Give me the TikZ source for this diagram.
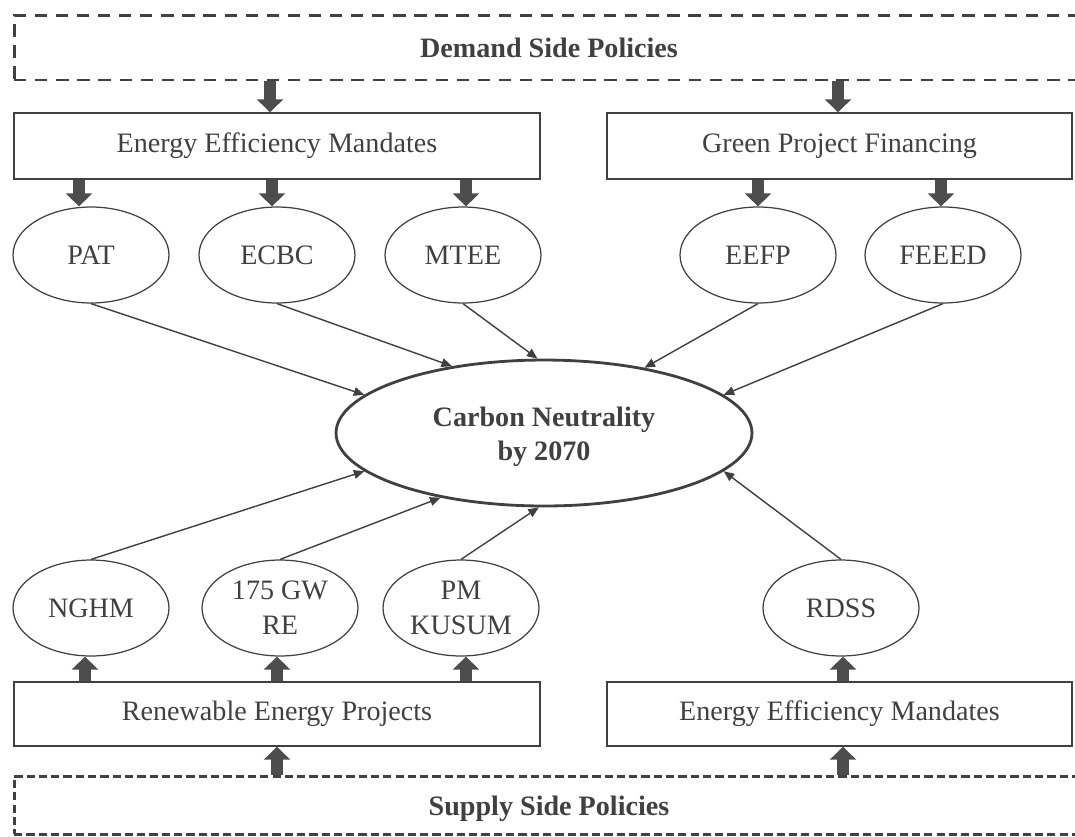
\documentclass[tikz,border=0pt]{standalone}
\usepackage{fontspec}
\setmainfont{Liberation Serif}
\usetikzlibrary{shapes.geometric,arrows.meta}
\definecolor{ink}{HTML}{404040}
\definecolor{blkc}{HTML}{4D4D4D}
\begin{document}
\begin{tikzpicture}[x=0.02cm,y=-0.02cm,
  every node/.style={text=ink,font=\fontsize{16}{20}\selectfont},
  boxnode/.style={draw=ink,line width=0.8pt,rectangle,inner sep=0pt,minimum height=1.32cm},
  ovalnode/.style={draw=ink,line width=0.7pt,ellipse,inner sep=0pt,minimum width=3.12cm,minimum height=1.92cm,align=center},
  zonebox/.style={draw=ink,line width=1.7pt,rectangle,inner sep=0pt},
  boldtext/.style={font=\fontsize{16}{19.5}\selectfont\bfseries,align=center},
  blk/.style={draw=blkc,line width=7.1pt,-{Triangle[width=14.7pt,length=7.4pt]}},
  linkarrow/.style={draw=ink,line width=0.8pt,-{Triangle[width=5pt,length=6pt]}}
]
\useasboundingbox (0,0) rectangle (1075,836);
\clip (0,0) rectangle (1075,836);

% policy zones
\node[zonebox, dash pattern=on 7pt off 5pt, minimum width=21.4cm, minimum height=1.3cm] (demand) at (549,47.5) {};
\node[boldtext] (demandtext) at (549,47.5) {Demand Side Policies};
\node[zonebox, dash pattern=on 4.7pt off 2.3pt, minimum width=21.4cm, minimum height=1.16cm] (supply) at (549,805) {};
\node[boldtext] (supplytext) at (549,809) {Supply Side Policies};

% boxes
\node[boxnode, minimum width=10.52cm] (eem) at (277,146) {Energy Efficiency Mandates};
\node[boxnode, minimum width=9.3cm] (gpf) at (839.5,146) {Green Project Financing};
\node[boxnode, minimum width=10.52cm, minimum height=1.28cm] (rep) at (277,714) {Renewable Energy Projects};
\node[boxnode, minimum width=9.3cm, minimum height=1.28cm] (eem2) at (839.5,714) {Energy Efficiency Mandates};

% top ellipses
\node[ovalnode] (pat) at (91,255) {PAT};
\node[ovalnode] (ecbc) at (277,255) {ECBC};
\node[ovalnode] (mtee) at (463,255) {MTEE};
\node[ovalnode] (eefp) at (758,255) {EEFP};
\node[ovalnode] (feeed) at (943,255) {FEEED};

% bottom ellipses
\node[ovalnode] (nghm) at (91,608) {NGHM};
\node[ovalnode] (gw) at (280,608) {175 GW\\RE};
\node[ovalnode] (kusum) at (461,608) {PM\\KUSUM};
\node[ovalnode] (rdss) at (841,608) {RDSS};

% centre
\node[draw=ink,line width=1.6pt,ellipse,inner sep=0pt,minimum width=8.32cm,minimum height=2.92cm] (cn) at (544,433) {};
\node[boldtext] (cntext) at (544,437) {Carbon Neutrality\\by 2070};

% x positions of block arrows
\coordinate (c270) at (270,0);
\coordinate (c838) at (838,0);
\coordinate (c79) at (79,0);
\coordinate (c272) at (272,0);
\coordinate (c466) at (466,0);
\coordinate (c758) at (758,0);
\coordinate (c941) at (941,0);
\coordinate (c85) at (85,0);
\coordinate (c277) at (277,0);
\coordinate (c843) at (843,0);

% block arrows (demand side)
\draw[blk] (demand.south -| c270) -- (eem.north -| c270);
\draw[blk] (demand.south -| c838) -- (gpf.north -| c838);
\draw[blk] (eem.south -| c79) -- (pat.north -| c79);
\draw[blk] (eem.south -| c272) -- (ecbc.north -| c272);
\draw[blk] (eem.south -| c466) -- (mtee.north -| c466);
\draw[blk] (gpf.south -| c758) -- (eefp.north -| c758);
\draw[blk] (gpf.south -| c941) -- (feeed.north -| c941);

% block arrows (supply side)
\draw[blk] (supply.north -| c277) -- (rep.south -| c277);
\draw[blk] (supply.north -| c843) -- (eem2.south -| c843);
\draw[blk] (rep.north -| c85) -- (nghm.south -| c85);
\draw[blk] (rep.north -| c277) -- (gw.south -| c277);
\draw[blk] (rep.north -| c466) -- (kusum.south -| c466);
\draw[blk] (eem2.north -| c843) -- (rdss.south -| c843);

% thin arrows to centre
\draw[linkarrow] (pat.south) -- (cn.168);
\draw[linkarrow] (ecbc.south) -- (cn.144);
\draw[linkarrow] (mtee.south) -- (cn.95);
\draw[linkarrow] (eefp.south) -- (cn.33);
\draw[linkarrow] (feeed.south) -- (cn.12);
\draw[linkarrow] (nghm.north) -- (cn.192);
\draw[linkarrow] (gw.north) -- (cn.212);
\draw[linkarrow] (kusum.north) -- (cn.266);
\draw[linkarrow] (rdss.north) -- (cn.348);
\end{tikzpicture}
\end{document}
